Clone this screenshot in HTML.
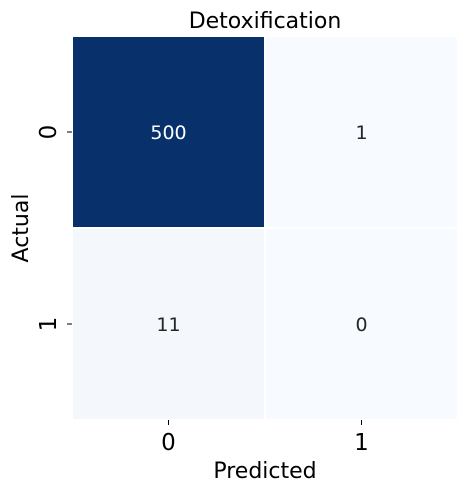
<!DOCTYPE html>
<html><head><meta charset="utf-8"><style>
body{margin:0;background:#fff}
svg text{font-family:"DejaVu Sans","Liberation Sans",sans-serif}
</style></head><body>
<svg width="468" height="492">
<text x="265" y="28" text-anchor="middle" font-size="22" fill="#000">Detoxification</text>
<g id="cells"></g>
<text x="265" y="478" text-anchor="middle" font-size="22" fill="#000">Predicted</text>
<text transform="translate(28,228) rotate(-90)" text-anchor="middle" font-size="22" fill="#000">Actual</text>
</svg>
<script>
const rowLabels=["0","1"];
const colLabels=["0","1"];
const values=[[500,1],[11,0]];
const X0=72,Y0=36,W=386,H=384;
const NS="http://www.w3.org/2000/svg";
const g=document.getElementById('cells');
const svg=g.ownerSVGElement;
const cw=W/colLabels.length, ch=H/rowLabels.length;
const vmax=Math.max(...values.flat()), vmin=Math.min(...values.flat());
function color(v){const t=(v-vmin)/(vmax-vmin||1);
 const a=[247,251,255],b=[8,48,107];
 return 'rgb('+a.map((c,i)=>Math.round(c+(b[i]-c)*t*0.6)).join(',')+')'.replace('','') && (t>0.5?'rgb(8,48,107)':'rgb('+a.map((c,i)=>Math.round(c+(b[i]-c)*t*0.6)).join(',')+')');}
function mk(tag,attrs){const e=document.createElementNS(NS,tag);for(const k in attrs)e.setAttribute(k,attrs[k]);return e;}
values.forEach((row,i)=>row.forEach((v,j)=>{
 const r=mk('rect',{x:X0+j*cw,y:Y0+i*ch,width:cw,height:ch,fill:color(v),stroke:'#fff','stroke-width':2});
 
 
 g.appendChild(r);
 const t=mk('text',{x:X0+(j+.5)*cw,y:Y0+(i+.5)*ch+7,'text-anchor':'middle','font-size':19,fill:(v-vmin)/(vmax-vmin)>0.5?'#fff':'#262626'});
 t.textContent=v;
 
 
 g.appendChild(t);
}));
colLabels.forEach((l,j)=>{
 const x=X0+(j+.5)*cw;
 const tk=mk('line',{x1:x,x2:x,y1:Y0+H,y2:Y0+H+5,stroke:'#000'});
 
 
 svg.appendChild(tk);
 const t=mk('text',{x:x,y:Y0+H+30,'text-anchor':'middle','font-size':23});
 t.textContent=l;
 
 
 svg.appendChild(t);
});
rowLabels.forEach((l,i)=>{
 const y=Y0+(i+.5)*ch;
 const tk=mk('line',{x1:X0-5,x2:X0,y1:y,y2:y,stroke:'#000'});
 
 
 svg.appendChild(tk);
 const t=mk('text',{transform:'translate('+(X0-16)+','+y+') rotate(-90)','text-anchor':'middle','font-size':23});
 t.textContent=l;
 
 
 svg.appendChild(t);
});
</script>
</body></html>
